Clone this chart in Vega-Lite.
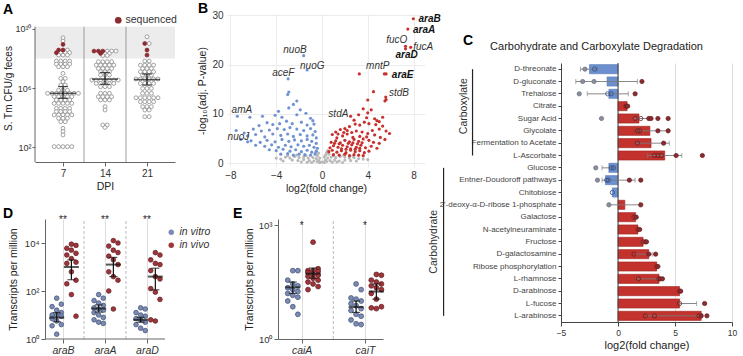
{
"$schema": "https://vega.github.io/schema/vega-lite/v6.json",
"padding": {"left": 3, "top": 2, "right": 3, "bottom": 2},
"spacing": -12,
"resolve": {"scale": {"fill": "independent", "stroke": "independent", "color": "independent"}, "legend": {"fill": "independent", "stroke": "independent", "color": "independent"}},
"config": {
  "font": "Liberation Sans",
  "view": {"stroke": null},
  "axis": {"labelFontSize": 9, "titleFontSize": 10, "titleFontWeight": "normal", "labelColor": "#333", "titleColor": "#222", "domainColor": "#666", "tickColor": "#666", "tickSize": 4, "labelPadding": 2},
  "title": {"fontSize": 14, "fontWeight": "bold", "anchor": "start", "frame": "group", "color": "#000"},
  "legend": {"labelFontSize": 10, "labelColor": "#333"}
},
"hconcat": [
{
"vconcat": [
{
"hconcat": [
{
"width": 140, "height": 148,
"title": {"text": "A", "dx": -32, "offset": -3},
"layer": [
 {"data": {"values": [{}]}, "mark": {"type": "rect", "color": "#ececec"},
  "encoding": {
   "x": {"datum": 0.333, "type": "quantitative", "scale": {"domain": [0.333, 3.667], "nice": false, "zero": false},
         "axis": {"values": [1, 2, 3], "labelExpr": "datum.value==1?'7':datum.value==2?'14':'21'", "title": "DPI", "labelFontSize": 10, "titleFontSize": 10.5, "titlePadding": 3}},
   "x2": {"datum": 3.667},
   "y": {"datum": 8, "type": "quantitative", "scale": {"domain": [0.99, 11.01], "nice": false, "zero": false},
         "axis": {"values": [2, 4, 6, 8, 10], "labelExpr": "datum.value==10?'10¹⁰':'10'+['⁰','¹','²','³','⁴','⁵','⁶','⁷','⁸','⁹'][datum.value]", "title": "S. Tm CFU/g feces", "domain": false, "titlePadding": 1, "labelPadding": 1, "labelFontSize": 9, "tickSize": 3}},
   "y2": {"datum": 10.15}}},
 {"data": {"values": [{"s": 1.5}, {"s": 2.5}]}, "mark": {"type": "rule", "color": "#888", "strokeWidth": 0.8},
  "encoding": {"x": {"field": "s", "type": "quantitative"}, "y": {"datum": 0.99}, "y2": {"datum": 10.15}}},
 {"data": {"values": [{}]}, "mark": {"type": "rule", "color": "#666"},
  "encoding": {"x": {"datum": 0.333}, "y": {"datum": 0.99}, "y2": {"datum": 10.15}}},
 {"data": {"values": [
  {"d":7,"v":9.4},{"d":7,"v":9.18},{"d":7,"v":8.95,"q":"s"},
  {"d":7,"v":8.57,"q":"s"},{"d":7,"v":8.57,"q":"s"},{"d":7,"v":8.57},
  {"d":7,"v":8.39,"q":"s"},{"d":7,"v":8.39},{"d":7,"v":8.39},{"d":7,"v":8.39},
  {"d":7,"v":8.23},{"d":7,"v":8.23},{"d":7,"v":8.23},
  {"d":7,"v":7.82},{"d":7,"v":7.82},{"d":7,"v":7.82},{"d":7,"v":7.82},
  {"d":7,"v":7.62},{"d":7,"v":7.62},{"d":7,"v":7.62},{"d":7,"v":7.62},
  {"d":7,"v":7.44},{"d":7,"v":7.44},{"d":7,"v":7.44},
  {"d":7,"v":6.99},{"d":7,"v":6.65},{"d":7,"v":6.65},{"d":7,"v":6.43},{"d":7,"v":6.2},{"d":7,"v":6.2},
  {"d":7,"v":5.85},{"d":7,"v":5.85},{"d":7,"v":5.85},
  {"d":7,"v":5.64},{"d":7,"v":5.64},{"d":7,"v":5.64},{"d":7,"v":5.64},{"d":7,"v":5.64},{"d":7,"v":5.64},{"d":7,"v":5.64},{"d":7,"v":5.64},
  {"d":7,"v":5.41},{"d":7,"v":5.41},{"d":7,"v":5.41},{"d":7,"v":5.41},{"d":7,"v":5.41},
  {"d":7,"v":5.19},{"d":7,"v":5.19},{"d":7,"v":5.19},{"d":7,"v":5.19},
  {"d":7,"v":4.96},{"d":7,"v":4.96},{"d":7,"v":4.96},{"d":7,"v":4.96},{"d":7,"v":4.96},
  {"d":7,"v":4.62},{"d":7,"v":4.62},{"d":7,"v":4.62},{"d":7,"v":4.62},
  {"d":7,"v":4.4},{"d":7,"v":4.4},{"d":7,"v":4.4},{"d":7,"v":4.4},
  {"d":7,"v":4.18},{"d":7,"v":4.18},{"d":7,"v":4.18},{"d":7,"v":4.18},{"d":7,"v":4.18},
  {"d":7,"v":3.95},{"d":7,"v":3.95},{"d":7,"v":3.95},{"d":7,"v":3.72},{"d":7,"v":3.72},
  {"d":7,"v":3.27},{"d":7,"v":3.05},{"d":7,"v":2.82},
  {"d":7,"v":2.03},{"d":7,"v":2.03},{"d":7,"v":2.03},{"d":7,"v":2.03},{"d":7,"v":2.03},
  {"d":14,"v":8.5,"q":"s"},{"d":14,"v":8.5,"q":"s"},{"d":14,"v":8.5,"q":"s"},{"d":14,"v":8.5},{"d":14,"v":8.5},{"d":14,"v":8.5},
  {"d":14,"v":8.34,"q":"s"},{"d":14,"v":8.34},{"d":14,"v":8.34},{"d":14,"v":8.2},{"d":14,"v":8.2},
  {"d":14,"v":7.78},{"d":14,"v":7.78},{"d":14,"v":7.78},{"d":14,"v":7.78},
  {"d":14,"v":7.55},{"d":14,"v":7.55},{"d":14,"v":7.55},{"d":14,"v":7.55},{"d":14,"v":7.55},
  {"d":14,"v":7.32},{"d":14,"v":7.32},{"d":14,"v":7.32},{"d":14,"v":7.32},
  {"d":14,"v":7.1},{"d":14,"v":7.1},{"d":14,"v":7.1},{"d":14,"v":6.88},{"d":14,"v":6.88},{"d":14,"v":6.88},
  {"d":14,"v":6.54},{"d":14,"v":6.54},{"d":14,"v":6.54},{"d":14,"v":6.54},{"d":14,"v":6.54},{"d":14,"v":6.54},{"d":14,"v":6.54},
  {"d":14,"v":6.31},{"d":14,"v":6.31},{"d":14,"v":6.31},{"d":14,"v":6.31},{"d":14,"v":6.31},
  {"d":14,"v":6.09},{"d":14,"v":6.09},{"d":14,"v":6.09},
  {"d":14,"v":5.64},{"d":14,"v":5.64},{"d":14,"v":5.64},
  {"d":14,"v":5.41},{"d":14,"v":5.41},{"d":14,"v":5.41},{"d":14,"v":5.41},
  {"d":14,"v":5.19},{"d":14,"v":5.19},{"d":14,"v":5.19},
  {"d":14,"v":4.74},{"d":14,"v":4.51},{"d":14,"v":3.5},{"d":14,"v":3.5},{"d":14,"v":3.33},
  {"d":21,"v":9.47},{"d":21,"v":9.01,"q":"s"},{"d":21,"v":9.01},{"d":21,"v":8.57,"q":"s"},{"d":21,"v":8.23,"q":"s"},
  {"d":21,"v":7.82},{"d":21,"v":7.82},
  {"d":21,"v":7.55},{"d":21,"v":7.55},{"d":21,"v":7.55},{"d":21,"v":7.55},
  {"d":21,"v":7.32},{"d":21,"v":7.32},{"d":21,"v":7.32},
  {"d":21,"v":7.1},{"d":21,"v":7.1},{"d":21,"v":7.1},{"d":21,"v":7.1},
  {"d":21,"v":6.88},{"d":21,"v":6.88},{"d":21,"v":6.88},
  {"d":21,"v":6.61},{"d":21,"v":6.61},{"d":21,"v":6.61},{"d":21,"v":6.61},{"d":21,"v":6.61},{"d":21,"v":6.61},
  {"d":21,"v":6.31},{"d":21,"v":6.31},{"d":21,"v":6.31},{"d":21,"v":6.31},
  {"d":21,"v":5.97},{"d":21,"v":5.97},{"d":21,"v":5.97},
  {"d":21,"v":5.64},{"d":21,"v":5.64},{"d":21,"v":5.64},
  {"d":21,"v":5.34},{"d":21,"v":5.34},{"d":21,"v":5.34},{"d":21,"v":5.34},{"d":21,"v":5.34},{"d":21,"v":5.34},
  {"d":21,"v":5.07},{"d":21,"v":5.07},{"d":21,"v":5.07},{"d":21,"v":5.07},
  {"d":21,"v":4.74},{"d":21,"v":4.74},{"d":21,"v":4.74},
  {"d":21,"v":4.51},{"d":21,"v":4.51},{"d":21,"v":4.06},{"d":21,"v":4.06}
 ]},
 "transform": [
  {"calculate": "datum.q=='s'?'sequenced':'other'", "as": "status"},
  {"joinaggregate": [{"op": "count", "as": "n"}], "groupby": ["d", "v"]},
  {"window": [{"op": "row_number", "as": "r"}], "groupby": ["d", "v"], "sort": [{"field": "status", "order": "descending"}]},
  {"calculate": "datum.d/7+(datum.r-(datum.n+1)/2)*0.105", "as": "px"}
 ],
 "mark": {"type": "point", "filled": true, "size": 15, "strokeWidth": 0.8, "opacity": 1},
 "encoding": {
  "x": {"field": "px", "type": "quantitative"},
  "y": {"field": "v", "type": "quantitative"},
  "fill": {"field": "status", "type": "nominal", "scale": {"domain": ["sequenced", "other"], "range": ["#8b2a30", "#ffffff"]},
           "legend": {"orient": "none", "legendX": 78, "legendY": 1, "values": ["sequenced"], "title": null, "symbolType": "circle", "symbolSize": 45, "symbolStrokeWidth": 0, "labelFontSize": 10.5, "padding": 0, "labelOffset": 2}},
  "stroke": {"field": "status", "type": "nominal", "scale": {"domain": ["sequenced", "other"], "range": ["#8b2a30", "#8c8c8c"]}, "legend": null},
  "order": {"field": "status", "sort": "ascending"}
 }},
 {"data": {"values": [{"d":7,"m":5.64,"lo":5.3,"hi":6.1},{"d":14,"m":6.6,"lo":6.25,"hi":7.05},{"d":21,"m":6.57,"lo":6.2,"hi":6.95}]},
  "transform": [{"calculate": "datum.d/7", "as": "gx"}],
  "layer": [
   {"mark": {"type": "rule", "color": "#111", "strokeWidth": 1.2}, "encoding": {"x": {"field": "gx", "type": "quantitative"}, "y": {"field": "lo", "type": "quantitative"}, "y2": {"field": "hi"}}},
   {"mark": {"type": "tick", "orient": "horizontal", "size": 26, "thickness": 1.5, "color": "#111"}, "encoding": {"x": {"field": "gx", "type": "quantitative"}, "y": {"field": "m", "type": "quantitative"}}},
   {"mark": {"type": "tick", "orient": "horizontal", "size": 10, "thickness": 1.2, "color": "#111"}, "encoding": {"x": {"field": "gx", "type": "quantitative"}, "y": {"field": "lo", "type": "quantitative"}}},
   {"mark": {"type": "tick", "orient": "horizontal", "size": 10, "thickness": 1.2, "color": "#111"}, "encoding": {"x": {"field": "gx", "type": "quantitative"}, "y": {"field": "hi", "type": "quantitative"}}}
  ]}
]
},
{
"width": 198, "height": 153,
"title": {"text": "B", "dx": -29, "offset": -6},
"layer": [
 {"data": {"values": [
  {"x":-4.0,"y":1.0,"c":"n"},{"x":-3.6,"y":0.8,"c":"n"},{"x":-3.2,"y":1.2,"c":"n"},{"x":-2.8,"y":1.0,"c":"n"},{"x":-2.4,"y":1.3,"c":"n"},{"x":-2.0,"y":1.1,"c":"n"},{"x":-1.6,"y":1.2,"c":"n"},{"x":-1.2,"y":1.0,"c":"n"},{"x":-0.8,"y":1.1,"c":"n"},{"x":-0.5,"y":0.9,"c":"n"},{"x":-0.3,"y":0.5,"c":"n"},{"x":-0.1,"y":0.2,"c":"n"},{"x":0.1,"y":0.2,"c":"n"},{"x":0.3,"y":0.6,"c":"n"},{"x":0.5,"y":1.0,"c":"n"},{"x":0.8,"y":1.2,"c":"n"},{"x":1.2,"y":1.1,"c":"n"},{"x":1.6,"y":1.3,"c":"n"},{"x":2.0,"y":1.2,"c":"n"},{"x":2.4,"y":1.0,"c":"n"},{"x":2.8,"y":1.1,"c":"n"},{"x":3.2,"y":0.9,"c":"n"},{"x":3.6,"y":0.8,"c":"n"},{"x":4.0,"y":0.7,"c":"n"},
  {"x":-2.6,"y":0.6,"c":"n"},{"x":-2.1,"y":0.5,"c":"n"},{"x":-1.6,"y":0.7,"c":"n"},{"x":-1.1,"y":0.5,"c":"n"},{"x":-0.7,"y":0.4,"c":"n"},{"x":-0.4,"y":0.3,"c":"n"},{"x":0.4,"y":0.3,"c":"n"},{"x":0.7,"y":0.5,"c":"n"},{"x":1.1,"y":0.6,"c":"n"},{"x":1.5,"y":0.4,"c":"n"},{"x":2.0,"y":0.6,"c":"n"},{"x":2.5,"y":0.5,"c":"n"},
  {"x":-1.8,"y":0.2,"c":"n"},{"x":-1.3,"y":0.15,"c":"n"},{"x":-0.9,"y":0.1,"c":"n"},{"x":-0.2,"y":0.05,"c":"n"},{"x":0.2,"y":0.1,"c":"n"},{"x":0.9,"y":0.15,"c":"n"},{"x":1.3,"y":0.2,"c":"n"},{"x":1.8,"y":0.1,"c":"n"},
  {"x":-0.4,"y":1.5,"c":"n"},{"x":-0.3,"y":2.0,"c":"n"},{"x":-0.2,"y":1.0,"c":"n"},{"x":0.3,"y":1.6,"c":"n"},{"x":0.4,"y":2.1,"c":"n"},{"x":0.2,"y":1.2,"c":"n"},{"x":-0.6,"y":1.7,"c":"n"},{"x":0.6,"y":1.8,"c":"n"},{"x":-0.5,"y":2.4,"c":"n"},{"x":0.5,"y":2.5,"c":"n"},{"x":-3.0,"y":1.5,"c":"n"},{"x":-2.2,"y":1.6,"c":"n"},{"x":-1.4,"y":1.5,"c":"n"},{"x":1.0,"y":1.5,"c":"n"},{"x":1.9,"y":1.6,"c":"n"},{"x":2.7,"y":1.4,"c":"n"},{"x":-3.4,"y":0.4,"c":"n"},{"x":3.0,"y":0.4,"c":"n"},
  {"x":-2.9,"y":14.4,"c":"d"},{"x":-3.0,"y":13.9,"c":"d"},{"x":-2.2,"y":12.6,"c":"d"},{"x":-2.5,"y":11.9,"c":"d"},{"x":-2.9,"y":11.2,"c":"d"},{"x":-1.9,"y":10.8,"c":"d"},{"x":-3.8,"y":10.5,"c":"d"},{"x":-1.4,"y":10.1,"c":"d"},{"x":-4.1,"y":9.7,"c":"d"},{"x":-5.2,"y":9.5,"c":"d"},{"x":-3.5,"y":9.3,"c":"d"},{"x":-2.2,"y":9.8,"c":"d"},{"x":-1.0,"y":9.1,"c":"d"},{"x":-0.8,"y":8.6,"c":"d"},
  {"x":-4.8,"y":8.2,"c":"d"},{"x":-5.5,"y":7.6,"c":"d"},{"x":-4.3,"y":7.8,"c":"d"},{"x":-3.7,"y":8.0,"c":"d"},{"x":-3.1,"y":8.5,"c":"d"},{"x":-2.6,"y":8.0,"c":"d"},{"x":-1.8,"y":8.3,"c":"d"},{"x":-1.3,"y":7.7,"c":"d"},{"x":-0.7,"y":7.9,"c":"d"},{"x":-6.0,"y":6.9,"c":"d"},{"x":-5.3,"y":6.5,"c":"d"},{"x":-4.6,"y":6.7,"c":"d"},{"x":-3.9,"y":7.0,"c":"d"},{"x":-3.3,"y":6.8,"c":"d"},{"x":-2.8,"y":7.2,"c":"d"},{"x":-2.2,"y":6.9,"c":"d"},{"x":-1.6,"y":6.6,"c":"d"},{"x":-1.0,"y":7.0,"c":"d"},{"x":-0.6,"y":6.4,"c":"d"},
  {"x":-6.5,"y":5.5,"c":"d"},{"x":-5.8,"y":5.8,"c":"d"},{"x":-5.0,"y":5.3,"c":"d"},{"x":-4.3,"y":5.9,"c":"d"},{"x":-3.6,"y":5.6,"c":"d"},{"x":-3.0,"y":5.9,"c":"d"},{"x":-2.5,"y":5.4,"c":"d"},{"x":-1.9,"y":5.8,"c":"d"},{"x":-1.3,"y":5.5,"c":"d"},{"x":-0.8,"y":5.7,"c":"d"},{"x":-0.5,"y":5.1,"c":"d"},
  {"x":-6.2,"y":4.5,"c":"d"},{"x":-5.4,"y":4.2,"c":"d"},{"x":-4.8,"y":4.6,"c":"d"},{"x":-4.1,"y":4.3,"c":"d"},{"x":-3.5,"y":4.8,"c":"d"},{"x":-2.9,"y":4.4,"c":"d"},{"x":-2.4,"y":4.7,"c":"d"},{"x":-1.8,"y":4.5,"c":"d"},{"x":-1.3,"y":4.8,"c":"d"},{"x":-0.9,"y":4.4,"c":"d"},{"x":-0.5,"y":4.0,"c":"d"},
  {"x":-5.8,"y":3.6,"c":"d"},{"x":-5.0,"y":3.4,"c":"d"},{"x":-4.4,"y":3.7,"c":"d"},{"x":-3.8,"y":3.2,"c":"d"},{"x":-3.2,"y":3.6,"c":"d"},{"x":-2.7,"y":3.3,"c":"d"},{"x":-2.1,"y":3.7,"c":"d"},{"x":-1.6,"y":3.4,"c":"d"},{"x":-1.1,"y":3.6,"c":"d"},{"x":-0.7,"y":3.2,"c":"d"},{"x":-0.4,"y":3.0,"c":"d"},
  {"x":-4.6,"y":2.7,"c":"d"},{"x":-4.0,"y":2.5,"c":"d"},{"x":-3.4,"y":2.8,"c":"d"},{"x":-2.8,"y":2.4,"c":"d"},{"x":-2.3,"y":2.7,"c":"d"},{"x":-1.8,"y":2.3,"c":"d"},{"x":-1.3,"y":2.6,"c":"d"},{"x":-0.9,"y":2.2,"c":"d"},{"x":-0.5,"y":2.4,"c":"d"},
  {"x":-3.6,"y":1.8,"c":"d"},{"x":-3.0,"y":1.9,"c":"d"},{"x":-2.5,"y":1.6,"c":"d"},{"x":-2.0,"y":1.8,"c":"d"},{"x":-1.5,"y":1.7,"c":"d"},{"x":-1.0,"y":1.6,"c":"d"},{"x":-0.6,"y":1.9,"c":"d"},{"x":-6.8,"y":6.1,"c":"d"},{"x":-7.1,"y":4.8,"c":"d"},
  {"x":-7.4,"y":9.5,"c":"d"},{"x":-7.5,"y":6.6,"c":"d"},{"x":-6.5,"y":4.3,"c":"d"},{"x":-6.3,"y":9.3,"c":"d"},{"x":-2.96,"y":17.1,"c":"d"},{"x":-1.3,"y":18.9,"c":"d"},{"x":-1.6,"y":21.8,"c":"d"},
  {"x":4.3,"y":10.8,"c":"u"},{"x":4.0,"y":10.2,"c":"u"},{"x":3.6,"y":11.0,"c":"u"},{"x":3.2,"y":9.8,"c":"u"},{"x":2.5,"y":9.5,"c":"u"},{"x":2.8,"y":8.7,"c":"u"},{"x":3.9,"y":9.2,"c":"u"},{"x":4.6,"y":9.0,"c":"u"},{"x":5.0,"y":8.4,"c":"u"},{"x":5.3,"y":7.5,"c":"u"},{"x":5.6,"y":6.5,"c":"u"},{"x":5.9,"y":6.0,"c":"u"},{"x":5.0,"y":6.9,"c":"u"},{"x":4.7,"y":7.8,"c":"u"},{"x":4.4,"y":6.6,"c":"u"},{"x":4.1,"y":8.0,"c":"u"},{"x":3.7,"y":8.3,"c":"u"},{"x":3.3,"y":7.7,"c":"u"},{"x":2.9,"y":7.9,"c":"u"},{"x":2.4,"y":7.4,"c":"u"},{"x":2.0,"y":7.0,"c":"u"},{"x":1.6,"y":6.8,"c":"u"},{"x":1.2,"y":6.3,"c":"u"},{"x":0.9,"y":5.8,"c":"u"},
  {"x":1.3,"y":5.1,"c":"u"},{"x":1.8,"y":5.5,"c":"u"},{"x":2.2,"y":5.9,"c":"u"},{"x":2.6,"y":6.2,"c":"u"},{"x":3.0,"y":6.5,"c":"u"},{"x":3.5,"y":6.3,"c":"u"},{"x":4.0,"y":6.0,"c":"u"},{"x":4.6,"y":5.7,"c":"u"},{"x":5.1,"y":5.2,"c":"u"},{"x":5.5,"y":4.8,"c":"u"},
  {"x":0.8,"y":4.2,"c":"u"},{"x":1.2,"y":4.5,"c":"u"},{"x":1.6,"y":4.1,"c":"u"},{"x":2.0,"y":4.6,"c":"u"},{"x":2.4,"y":4.3,"c":"u"},{"x":2.8,"y":4.8,"c":"u"},{"x":3.2,"y":4.4,"c":"u"},{"x":3.6,"y":4.9,"c":"u"},{"x":4.1,"y":4.6,"c":"u"},{"x":4.5,"y":4.2,"c":"u"},{"x":5.0,"y":4.0,"c":"u"},
  {"x":0.7,"y":3.1,"c":"u"},{"x":1.0,"y":3.5,"c":"u"},{"x":1.4,"y":3.2,"c":"u"},{"x":1.8,"y":3.6,"c":"u"},{"x":2.2,"y":3.3,"c":"u"},{"x":2.6,"y":3.7,"c":"u"},{"x":3.0,"y":3.2,"c":"u"},{"x":3.4,"y":3.6,"c":"u"},{"x":3.8,"y":3.1,"c":"u"},{"x":4.3,"y":3.4,"c":"u"},{"x":4.8,"y":3.0,"c":"u"},
  {"x":0.6,"y":2.3,"c":"u"},{"x":0.9,"y":2.6,"c":"u"},{"x":1.3,"y":2.2,"c":"u"},{"x":1.7,"y":2.5,"c":"u"},{"x":2.1,"y":2.1,"c":"u"},{"x":2.5,"y":2.6,"c":"u"},{"x":2.9,"y":2.3,"c":"u"},{"x":3.3,"y":2.5,"c":"u"},{"x":3.7,"y":2.1,"c":"u"},{"x":4.1,"y":2.4,"c":"u"},
  {"x":1.0,"y":1.7,"c":"u"},{"x":1.5,"y":1.6,"c":"u"},{"x":2.0,"y":1.8,"c":"u"},{"x":2.4,"y":1.5,"c":"u"},{"x":2.8,"y":1.7,"c":"u"},{"x":3.2,"y":1.6,"c":"u"},{"x":3.6,"y":1.5,"c":"u"},
  {"x":1.1,"y":4.0,"c":"u"},{"x":1.5,"y":3.9,"c":"u"},{"x":2.3,"y":4.0,"c":"u"},{"x":2.7,"y":4.1,"c":"u"},{"x":3.1,"y":3.9,"c":"u"},{"x":3.5,"y":4.1,"c":"u"},{"x":1.7,"y":2.9,"c":"u"},{"x":2.1,"y":2.8,"c":"u"},{"x":2.5,"y":2.9,"c":"u"},{"x":2.9,"y":2.8,"c":"u"},{"x":3.3,"y":3.0,"c":"u"},{"x":1.4,"y":5.9,"c":"u"},{"x":1.9,"y":6.2,"c":"u"},{"x":2.7,"y":5.2,"c":"u"},{"x":3.3,"y":5.4,"c":"u"},{"x":3.9,"y":5.3,"c":"u"},{"x":2.2,"y":6.6,"c":"u"},{"x":4.8,"y":8.6,"c":"u"},{"x":5.3,"y":9.3,"c":"u"},
  {"x":7.98,"y":29.3,"c":"u"},{"x":7.5,"y":27.2,"c":"u"},{"x":7.3,"y":23.7,"c":"u"},{"x":7.3,"y":23.2,"c":"u"},{"x":7.75,"y":23.5,"c":"u"},{"x":3.26,"y":18.1,"c":"u"},{"x":5.45,"y":18.1,"c":"u"},{"x":5.6,"y":18.1,"c":"u"},{"x":5.57,"y":13.4,"c":"u"},{"x":5.6,"y":12.9,"c":"u"},{"x":5.5,"y":12.6,"c":"u"},{"x":4.5,"y":14.5,"c":"u"},{"x":4.0,"y":12.8,"c":"u"}
 ]},
 "mark": {"type": "circle", "size": 10, "opacity": 1},
 "encoding": {
  "x": {"field": "x", "type": "quantitative", "scale": {"domain": [-8.3, 9], "nice": false, "zero": false},
        "axis": {"values": [-8,-6,-4,-2,0,2,4,6,8], "labelExpr": "datum.value%4==0?datum.label:''", "labelOverlap": false, "grid": true, "gridColor": "#ececec", "domain": false, "ticks": false, "title": "log2(fold change)", "labelFontSize": 10, "titleFontSize": 10.5, "labelPadding": 3, "titlePadding": 3}},
  "y": {"field": "y", "type": "quantitative", "scale": {"domain": [-0.81, 30.27], "nice": false, "zero": false},
        "axis": {"values": [0,5,10,15,20,25,30], "labelExpr": "datum.value%10==0?datum.label:''", "labelOverlap": false, "grid": true, "gridColor": "#ececec", "domain": false, "ticks": false, "title": "-log₁₀(adj. P-value)", "labelFontSize": 10, "titleFontSize": 10.5, "labelPadding": 4, "titlePadding": 4}},
  "color": {"field": "c", "type": "nominal", "scale": {"domain": ["n", "d", "u"], "range": ["#b9b9b9", "#6f93d0", "#c7302c"]}, "legend": null}
 }},
 {"data": {"values": [
  {"g":"fucO","tx":6.53,"ty":24.9},{"g":"fucA","tx":8.85,"ty":23.6},{"g":"mntP","tx":4.87,"ty":19.8},{"g":"stdB","tx":6.73,"ty":14.3},{"g":"stdA","tx":1.43,"ty":10.0},
  {"g":"nuoB","tx":-2.36,"ty":22.9},{"g":"nuoG","tx":-0.85,"ty":19.8},{"g":"aceF","tx":-3.38,"ty":18.3},{"g":"amA","tx":-7.0,"ty":10.7},{"g":"nuoJ","tx":-7.3,"ty":5.3}
 ]},
 "mark": {"type": "text", "fontStyle": "italic", "fontSize": 10, "fill": "#333"},
 "encoding": {"x": {"field": "tx", "type": "quantitative"}, "y": {"field": "ty", "type": "quantitative"}, "text": {"field": "g"}}},
 {"data": {"values": [
  {"g":"araB","tx":9.4,"ty":29.3},{"g":"araA","tx":8.92,"ty":27.1},{"g":"araD","tx":7.4,"ty":22.0},{"g":"araE","tx":7.05,"ty":17.9}
 ]},
 "mark": {"type": "text", "fontStyle": "italic", "fontWeight": "bold", "fontSize": 10, "fill": "#111"},
 "encoding": {"x": {"field": "tx", "type": "quantitative"}, "y": {"field": "ty", "type": "quantitative"}, "text": {"field": "g"}}}
]
}
],
"spacing": 52, "bounds": "flush",
"resolve": {"scale": {"fill": "independent", "stroke": "independent", "color": "independent"}, "legend": {"fill": "independent", "stroke": "independent", "color": "independent"}}
},
{
"hconcat": [
{
"width": 130, "height": 120,
"title": {"text": "D", "dx": -32, "offset": -6},
"layer": [
 {"data": {"values": [{"s": 1.5}, {"s": 2.5}]}, "mark": {"type": "rule", "color": "#aaa", "strokeDash": [3, 2], "strokeWidth": 0.8},
  "encoding": {
   "x": {"field": "s", "type": "quantitative", "scale": {"domain": [0.333, 3.43], "nice": false, "zero": false},
         "axis": {"values": [1, 2, 3], "labelExpr": "datum.value==1?'araB':datum.value==2?'araA':'araD'", "labelFontStyle": "italic", "labelFontSize": 10.5, "title": null, "domain": false, "tickSize": 4}},
   "y": {"datum": 0, "type": "quantitative", "scale": {"domain": [0, 5], "nice": false, "zero": false},
         "axis": {"values": [0, 2, 4], "labelExpr": "'10'+['⁰','¹','²','³','⁴','⁵'][datum.value]", "title": "Transcripts per million", "offset": -10, "titleFontSize": 10.5, "labelFontSize": 9.5, "titlePadding": 6}},
   "y2": {"datum": 5}}},
 {"data": {"values": [{}]}, "mark": {"type": "rule", "color": "#666"},
  "encoding": {"x": {"datum": 0.571}, "x2": {"datum": 3.43}, "y": {"datum": 0}}},
 {"data": {"values": [
  {"g":"araB","c":"in vitro","v":1.7},{"g":"araB","c":"in vitro","v":1.45},{"g":"araB","c":"in vitro","v":1.35},{"g":"araB","c":"in vitro","v":1.2},{"g":"araB","c":"in vitro","v":1.1},{"g":"araB","c":"in vitro","v":1.0},{"g":"araB","c":"in vitro","v":1.0},{"g":"araB","c":"in vitro","v":0.95},{"g":"araB","c":"in vitro","v":0.85},{"g":"araB","c":"in vitro","v":0.75},{"g":"araB","c":"in vitro","v":0.6},{"g":"araB","c":"in vitro","v":0.55},{"g":"araB","c":"in vitro","v":0.2},
  {"g":"araB","c":"in vivo","v":3.95},{"g":"araB","c":"in vivo","v":3.9},{"g":"araB","c":"in vivo","v":3.78},{"g":"araB","c":"in vivo","v":3.7},{"g":"araB","c":"in vivo","v":3.57},{"g":"araB","c":"in vivo","v":3.5},{"g":"araB","c":"in vivo","v":3.35},{"g":"araB","c":"in vivo","v":3.2},{"g":"araB","c":"in vivo","v":3.15},{"g":"araB","c":"in vivo","v":2.8},{"g":"araB","c":"in vivo","v":2.45},{"g":"araB","c":"in vivo","v":2.3},{"g":"araB","c":"in vivo","v":1.85},{"g":"araB","c":"in vivo","v":0.95},
  {"g":"araA","c":"in vitro","v":1.85},{"g":"araA","c":"in vitro","v":1.7},{"g":"araA","c":"in vitro","v":1.6},{"g":"araA","c":"in vitro","v":1.5},{"g":"araA","c":"in vitro","v":1.4},{"g":"araA","c":"in vitro","v":1.3},{"g":"araA","c":"in vitro","v":1.25},{"g":"araA","c":"in vitro","v":1.2},{"g":"araA","c":"in vitro","v":1.1},{"g":"araA","c":"in vitro","v":1.0},{"g":"araA","c":"in vitro","v":0.9},{"g":"araA","c":"in vitro","v":0.8},{"g":"araA","c":"in vitro","v":0.7},{"g":"araA","c":"in vitro","v":0.65},
  {"g":"araA","c":"in vivo","v":4.1},{"g":"araA","c":"in vivo","v":4.0},{"g":"araA","c":"in vivo","v":3.87},{"g":"araA","c":"in vivo","v":3.7},{"g":"araA","c":"in vivo","v":3.6},{"g":"araA","c":"in vivo","v":3.45},{"g":"araA","c":"in vivo","v":3.3},{"g":"araA","c":"in vivo","v":3.1},{"g":"araA","c":"in vivo","v":2.8},{"g":"araA","c":"in vivo","v":2.6},{"g":"araA","c":"in vivo","v":2.45},{"g":"araA","c":"in vivo","v":2.0},{"g":"araA","c":"in vivo","v":1.25},
  {"g":"araD","c":"in vitro","v":1.3},{"g":"araD","c":"in vitro","v":1.25},{"g":"araD","c":"in vitro","v":1.1},{"g":"araD","c":"in vitro","v":1.0},{"g":"araD","c":"in vitro","v":0.95},{"g":"araD","c":"in vitro","v":0.85},{"g":"araD","c":"in vitro","v":0.8},{"g":"araD","c":"in vitro","v":0.7},{"g":"araD","c":"in vitro","v":0.6},{"g":"araD","c":"in vitro","v":0.45},{"g":"araD","c":"in vitro","v":0.35},
  {"g":"araD","c":"in vivo","v":3.6},{"g":"araD","c":"in vivo","v":3.5},{"g":"araD","c":"in vivo","v":3.3},{"g":"araD","c":"in vivo","v":3.15},{"g":"araD","c":"in vivo","v":3.1},{"g":"araD","c":"in vivo","v":2.85},{"g":"araD","c":"in vivo","v":2.6},{"g":"araD","c":"in vivo","v":2.5},{"g":"araD","c":"in vivo","v":2.1},{"g":"araD","c":"in vivo","v":1.95},{"g":"araD","c":"in vivo","v":1.65},{"g":"araD","c":"in vivo","v":0.8},{"g":"araD","c":"in vivo","v":0.75}
 ]},
 "transform": [
  {"calculate": "indexof(['araB','araA','araD'], datum.g)+1", "as": "gi"},
  {"window": [{"op": "row_number", "as": "r"}], "groupby": ["g", "c"], "sort": [{"field": "v", "order": "descending"}]},
  {"calculate": "datum.gi+(datum.c=='in vitro'?-0.15:0.2)+((datum.r%3)-1)*0.11", "as": "px"}
 ],
 "mark": {"type": "point", "filled": true, "size": 22, "strokeWidth": 0.7, "opacity": 1},
 "encoding": {
  "x": {"field": "px", "type": "quantitative"},
  "y": {"field": "v", "type": "quantitative"},
  "fill": {"field": "c", "type": "nominal", "scale": {"domain": ["in vitro", "in vivo"], "range": ["#7a8bb4", "#a03539"]},
           "legend": {"orient": "none", "legendX": 131, "legendY": 8, "title": null, "labelFontStyle": "italic", "labelFontSize": 10.5, "symbolType": "circle", "symbolSize": 30, "symbolStrokeWidth": 0, "padding": 0, "rowPadding": 2, "labelOffset": 3}},
  "stroke": {"field": "c", "type": "nominal", "scale": {"domain": ["in vitro", "in vivo"], "range": ["#3f4d73", "#5c1a1e"]}, "legend": null}
 }},
 {"data": {"values": [
  {"g":"araB","c":"in vitro","m":0.89,"lo":0.72,"hi":1.1},{"g":"araB","c":"in vivo","m":3.0,"lo":2.47,"hi":3.3},
  {"g":"araA","c":"in vitro","m":1.27,"lo":1.12,"hi":1.42},{"g":"araA","c":"in vivo","m":3.1,"lo":2.6,"hi":3.4},
  {"g":"araD","c":"in vitro","m":0.8,"lo":0.7,"hi":0.9},{"g":"araD","c":"in vivo","m":2.6,"lo":2.05,"hi":2.95}
 ]},
 "transform": [
  {"calculate": "indexof(['araB','araA','araD'], datum.g)+1+(datum.c=='in vitro'?-0.15:0.2)", "as": "gx"}
 ],
 "layer": [
  {"mark": {"type": "rule", "color": "#111", "strokeWidth": 1.2}, "encoding": {"x": {"field": "gx", "type": "quantitative"}, "y": {"field": "lo", "type": "quantitative"}, "y2": {"field": "hi"}}},
  {"mark": {"type": "tick", "orient": "horizontal", "size": 15, "thickness": 2, "color": "#111"}, "encoding": {"x": {"field": "gx", "type": "quantitative"}, "y": {"field": "m", "type": "quantitative"}}},
  {"mark": {"type": "tick", "orient": "horizontal", "size": 8, "thickness": 1.2, "color": "#111"}, "encoding": {"x": {"field": "gx", "type": "quantitative"}, "y": {"field": "lo", "type": "quantitative"}}},
  {"mark": {"type": "tick", "orient": "horizontal", "size": 8, "thickness": 1.2, "color": "#111"}, "encoding": {"x": {"field": "gx", "type": "quantitative"}, "y": {"field": "hi", "type": "quantitative"}}}
 ]},
 {"data": {"values": [{"gi": 1}, {"gi": 2}, {"gi": 3}]},
  "mark": {"type": "text", "fontSize": 10, "fill": "#222", "baseline": "middle"},
  "encoding": {"x": {"field": "gi", "type": "quantitative"}, "y": {"datum": 4.97}, "text": {"value": "**"}}}
]
},
{
"width": 105, "height": 120,
"title": {"text": "E", "dx": -45, "offset": -2},
"layer": [
 {"data": {"values": [{"s": 1.5}]}, "mark": {"type": "rule", "color": "#aaa", "strokeDash": [3, 2], "strokeWidth": 0.8},
  "encoding": {
   "x": {"field": "s", "type": "quantitative", "scale": {"domain": [0.626, 2.285], "nice": false, "zero": false},
         "axis": {"values": [1, 2], "labelExpr": "datum.value==1?'caiA':'caiT'", "labelFontStyle": "italic", "labelFontSize": 10.5, "title": null, "tickSize": 4}},
   "y": {"datum": 0, "type": "quantitative", "scale": {"domain": [0, 3.16], "nice": false, "zero": false},
         "axis": {"values": [0, 1, 2, 3], "labelExpr": "'10'+['⁰','¹','²','³'][datum.value]", "title": "Transcripts per million", "titleFontSize": 10.5, "labelFontSize": 9.5, "titlePadding": 4}},
   "y2": {"datum": 3.16}}},
 {"data": {"values": [
  {"g":"caiA","c":"in vitro","v":1.8},{"g":"caiA","c":"in vitro","v":1.8},{"g":"caiA","c":"in vitro","v":1.55},{"g":"caiA","c":"in vitro","v":1.45},{"g":"caiA","c":"in vitro","v":1.4},{"g":"caiA","c":"in vitro","v":1.35},{"g":"caiA","c":"in vitro","v":1.3},{"g":"caiA","c":"in vitro","v":1.25},{"g":"caiA","c":"in vitro","v":1.2},{"g":"caiA","c":"in vitro","v":1.15},{"g":"caiA","c":"in vitro","v":1.1},{"g":"caiA","c":"in vitro","v":1.0},{"g":"caiA","c":"in vitro","v":0.85},{"g":"caiA","c":"in vitro","v":0.65},
  {"g":"caiA","c":"in vivo","v":2.55},{"g":"caiA","c":"in vivo","v":1.85},{"g":"caiA","c":"in vivo","v":1.8},{"g":"caiA","c":"in vivo","v":1.8},{"g":"caiA","c":"in vivo","v":1.78},{"g":"caiA","c":"in vivo","v":1.75},{"g":"caiA","c":"in vivo","v":1.7},{"g":"caiA","c":"in vivo","v":1.68},{"g":"caiA","c":"in vivo","v":1.65},{"g":"caiA","c":"in vivo","v":1.6},{"g":"caiA","c":"in vivo","v":1.55},{"g":"caiA","c":"in vivo","v":1.5},{"g":"caiA","c":"in vivo","v":1.45},{"g":"caiA","c":"in vivo","v":1.38},{"g":"caiA","c":"in vivo","v":1.3},
  {"g":"caiT","c":"in vitro","v":1.45},{"g":"caiT","c":"in vitro","v":1.3},{"g":"caiT","c":"in vitro","v":1.08},{"g":"caiT","c":"in vitro","v":1.05},{"g":"caiT","c":"in vitro","v":1.0},{"g":"caiT","c":"in vitro","v":0.93},{"g":"caiT","c":"in vitro","v":0.88},{"g":"caiT","c":"in vitro","v":0.8},{"g":"caiT","c":"in vitro","v":0.75},{"g":"caiT","c":"in vitro","v":0.65},{"g":"caiT","c":"in vitro","v":0.6},{"g":"caiT","c":"in vitro","v":0.5},{"g":"caiT","c":"in vitro","v":0.4},{"g":"caiT","c":"in vitro","v":0.38},
  {"g":"caiT","c":"in vivo","v":1.7},{"g":"caiT","c":"in vivo","v":1.68},{"g":"caiT","c":"in vivo","v":1.55},{"g":"caiT","c":"in vivo","v":1.5},{"g":"caiT","c":"in vivo","v":1.45},{"g":"caiT","c":"in vivo","v":1.4},{"g":"caiT","c":"in vivo","v":1.35},{"g":"caiT","c":"in vivo","v":1.3},{"g":"caiT","c":"in vivo","v":1.2},{"g":"caiT","c":"in vivo","v":1.05},{"g":"caiT","c":"in vivo","v":0.85},{"g":"caiT","c":"in vivo","v":0.82},{"g":"caiT","c":"in vivo","v":0.8}
 ]},
 "transform": [
  {"calculate": "indexof(['caiA','caiT'], datum.g)+1", "as": "gi"},
  {"window": [{"op": "row_number", "as": "r"}], "groupby": ["g", "c"], "sort": [{"field": "v", "order": "descending"}]},
  {"calculate": "datum.gi+(datum.c=='in vitro'?-0.14:0.18)+((datum.r%3)-1)*0.08", "as": "px"}
 ],
 "mark": {"type": "point", "filled": true, "size": 24, "strokeWidth": 0.7, "opacity": 1},
 "encoding": {
  "x": {"field": "px", "type": "quantitative"},
  "y": {"field": "v", "type": "quantitative"},
  "fill": {"field": "c", "type": "nominal", "scale": {"domain": ["in vitro", "in vivo"], "range": ["#7a8bb4", "#a03539"]}, "legend": null},
  "stroke": {"field": "c", "type": "nominal", "scale": {"domain": ["in vitro", "in vivo"], "range": ["#3f4d73", "#5c1a1e"]}, "legend": null}
 }},
 {"data": {"values": [
  {"g":"caiA","c":"in vitro","m":1.36,"lo":1.2,"hi":1.5},{"g":"caiA","c":"in vivo","m":1.72,"lo":1.6,"hi":1.87},
  {"g":"caiT","c":"in vitro","m":0.84,"lo":0.7,"hi":1.0},{"g":"caiT","c":"in vivo","m":1.25,"lo":1.05,"hi":1.45}
 ]},
 "transform": [
  {"calculate": "indexof(['caiA','caiT'], datum.g)+1+(datum.c=='in vitro'?-0.14:0.18)", "as": "gx"}
 ],
 "layer": [
  {"mark": {"type": "rule", "color": "#111", "strokeWidth": 1.2}, "encoding": {"x": {"field": "gx", "type": "quantitative"}, "y": {"field": "lo", "type": "quantitative"}, "y2": {"field": "hi"}}},
  {"mark": {"type": "tick", "orient": "horizontal", "size": 15, "thickness": 2, "color": "#111"}, "encoding": {"x": {"field": "gx", "type": "quantitative"}, "y": {"field": "m", "type": "quantitative"}}},
  {"mark": {"type": "tick", "orient": "horizontal", "size": 8, "thickness": 1.2, "color": "#111"}, "encoding": {"x": {"field": "gx", "type": "quantitative"}, "y": {"field": "lo", "type": "quantitative"}}},
  {"mark": {"type": "tick", "orient": "horizontal", "size": 8, "thickness": 1.2, "color": "#111"}, "encoding": {"x": {"field": "gx", "type": "quantitative"}, "y": {"field": "hi", "type": "quantitative"}}}
 ]},
 {"data": {"values": [{"gi": 1}, {"gi": 2}]},
  "mark": {"type": "text", "fontSize": 10, "fill": "#222", "baseline": "middle"},
  "encoding": {"x": {"field": "gi", "type": "quantitative"}, "y": {"datum": 2.97}, "text": {"value": "*"}}}
]
}
],
"spacing": 113, "bounds": "flush",
"resolve": {"scale": {"fill": "independent", "stroke": "independent", "color": "independent"}, "legend": {"fill": "independent", "stroke": "independent", "color": "independent"}}
}
],
"spacing": 12,
"resolve": {"scale": {"fill": "independent", "stroke": "independent", "color": "independent"}, "legend": {"fill": "independent", "stroke": "independent", "color": "independent"}}
},
{
"vconcat": [
{
"width": 171, "height": 1,
"data": {"values": [{}]},
"mark": {"type": "point", "opacity": 0},
"title": {"text": "C", "orient": "bottom", "anchor": "start", "dx": -98, "offset": 17}
},
{
"width": 171, "height": 259,
"title": {"text": "Carbohydrate and Carboxylate Degradation", "fontSize": 11, "fontWeight": "normal", "anchor": "middle", "dx": -50, "offset": 11, "color": "#222"},
"layer": [
 {"data": {"values": [
  {"cat":"D-threonate","fc":-2.5},{"cat":"D-gluconate","fc":-0.96},{"cat":"Trehalose","fc":-0.8},{"cat":"Citrate","fc":0.8},{"cat":"Sugar Acid","fc":1.84},{"cat":"Glycolate","fc":2.8},{"cat":"Fermentation to Acetate","fc":2.9},{"cat":"L-Ascorbate","fc":4.1},
  {"cat":"Glucose","fc":-0.8},{"cat":"Entner-Doudoroff pathways","fc":-1.1},{"cat":"Chitobiose","fc":-0.5},{"cat":"2'-deoxy-α-D-ribose 1-phosphate","fc":0.6},{"cat":"Galactose","fc":1.55},{"cat":"N-acetylneuraminate","fc":1.75},{"cat":"Fructose","fc":2.2},{"cat":"D-galactosamine","fc":2.7},{"cat":"Ribose phosphorylation","fc":3.4},{"cat":"L-rhamnose","fc":3.6},{"cat":"D-arabinose","fc":5.4},{"cat":"L-fucose","fc":5.4},{"cat":"L-arabinose","fc":7.3}
 ]},
 "mark": {"type": "bar", "strokeWidth": 0.6},
 "encoding": {
  "y": {"field": "cat", "type": "nominal", "sort": null,
        "scale": {"domain": ["D-threonate","D-gluconate","Trehalose","Citrate","Sugar Acid","Glycolate","Fermentation to Acetate","L-Ascorbate","Glucose","Entner-Doudoroff pathways","Chitobiose","2'-deoxy-α-D-ribose 1-phosphate","Galactose","N-acetylneuraminate","Fructose","D-galactosamine","Ribose phosphorylation","L-rhamnose","D-arabinose","L-fucose","L-arabinose"], "paddingInner": 0.26, "paddingOuter": 0.13},
        "axis": {"title": null, "labelFontSize": 8, "tickSize": 3, "labelPadding": 2, "labelColor": "#444", "domainColor": "#444", "tickColor": "#444"}},
  "x": {"field": "fc", "type": "quantitative", "scale": {"domain": [-5, 10], "nice": false, "zero": false},
        "axis": {"values": [-5, 0, 5, 10], "format": "d", "labelOverlap": false, "labelFlush": false, "tickSize": 4, "title": "log2(fold change)", "titleFontSize": 11, "labelFontSize": 8.5, "titlePadding": 3, "domainColor": "#444", "tickColor": "#444"}},
  "x2": {"datum": 0},
  "color": {"condition": {"test": "datum.fc<0", "value": "#6c8fce"}, "value": "#c3322c"},
  "stroke": {"condition": {"test": "datum.fc<0", "value": "#5577b5"}, "value": "#9e2320"}
 }},
 {"data": {"values": [{}]}, "mark": {"type": "rule", "color": "#444", "strokeWidth": 1}, "encoding": {"x": {"datum": 0}}},
 {"data": {"values": [
  {"cat":"D-threonate","lo":-3.3,"hi":-1.8},{"cat":"D-gluconate","lo":-3.7,"hi":1.7},{"cat":"Trehalose","lo":-2.7,"hi":0.9},{"cat":"Sugar Acid","lo":1.4,"hi":2.7},{"cat":"Glycolate","lo":1.7,"hi":4.4},{"cat":"Fermentation to Acetate","lo":1.6,"hi":4.5},{"cat":"L-Ascorbate","lo":2.6,"hi":5.6},
  {"cat":"Glucose","lo":-1.4,"hi":-0.3},{"cat":"Entner-Doudoroff pathways","lo":-1.4,"hi":1.5},{"cat":"2'-deoxy-α-D-ribose 1-phosphate","lo":-0.8,"hi":1.9},{"cat":"D-galactosamine","lo":1.6,"hi":3.0},{"cat":"L-rhamnose","lo":1.7,"hi":3.6},{"cat":"L-fucose","lo":5.4,"hi":6.9},{"cat":"L-arabinose","lo":2.5,"hi":7.4}
 ]},
 "layer": [
  {"mark": {"type": "rule", "color": "#7a7a7a", "strokeWidth": 0.9}, "encoding": {"y": {"field": "cat", "type": "nominal", "sort": null}, "x": {"field": "lo", "type": "quantitative"}, "x2": {"field": "hi"}}},
  {"mark": {"type": "tick", "size": 5, "thickness": 0.9, "color": "#7a7a7a"}, "encoding": {"y": {"field": "cat", "type": "nominal", "sort": null}, "x": {"field": "lo", "type": "quantitative"}}},
  {"mark": {"type": "tick", "size": 5, "thickness": 0.9, "color": "#7a7a7a"}, "encoding": {"y": {"field": "cat", "type": "nominal", "sort": null}, "x": {"field": "hi", "type": "quantitative"}}}
 ]},
 {"data": {"values": [
  {"cat":"D-threonate","v":-2.9,"k":"n"},{"cat":"D-threonate","v":-2.05,"k":"on"},
  {"cat":"D-gluconate","v":-3.1,"k":"n"},{"cat":"D-gluconate","v":-2.1,"k":"n"},{"cat":"D-gluconate","v":2.1,"k":"p"},
  {"cat":"Trehalose","v":-3.4,"k":"n"},{"cat":"Trehalose","v":-0.9,"k":"on"},{"cat":"Trehalose","v":-0.6,"k":"on"},{"cat":"Trehalose","v":1.5,"k":"p"},
  {"cat":"Citrate","v":0.7,"k":"p"},{"cat":"Citrate","v":0.85,"k":"p"},
  {"cat":"Sugar Acid","v":-1.45,"k":"n"},{"cat":"Sugar Acid","v":1.5,"k":"op"},{"cat":"Sugar Acid","v":2.0,"k":"op"},{"cat":"Sugar Acid","v":2.7,"k":"p"},{"cat":"Sugar Acid","v":2.9,"k":"p"},{"cat":"Sugar Acid","v":3.5,"k":"p"},{"cat":"Sugar Acid","v":4.4,"k":"p"},
  {"cat":"Glycolate","v":1.7,"k":"op"},{"cat":"Glycolate","v":1.9,"k":"op"},{"cat":"Glycolate","v":3.5,"k":"p"},{"cat":"Glycolate","v":4.4,"k":"p"},
  {"cat":"Fermentation to Acetate","v":1.7,"k":"op"},{"cat":"Fermentation to Acetate","v":4.0,"k":"p"},
  {"cat":"L-Ascorbate","v":3.2,"k":"op"},{"cat":"L-Ascorbate","v":3.5,"k":"op"},{"cat":"L-Ascorbate","v":3.8,"k":"op"},{"cat":"L-Ascorbate","v":5.1,"k":"p"},{"cat":"L-Ascorbate","v":7.4,"k":"p"},
  {"cat":"Glucose","v":-1.95,"k":"n"},{"cat":"Glucose","v":-0.6,"k":"on"},{"cat":"Glucose","v":-0.4,"k":"on"},
  {"cat":"Entner-Doudoroff pathways","v":-1.8,"k":"n"},{"cat":"Entner-Doudoroff pathways","v":-1.0,"k":"on"},{"cat":"Entner-Doudoroff pathways","v":-0.85,"k":"on"},{"cat":"Entner-Doudoroff pathways","v":1.0,"k":"p"},{"cat":"Entner-Doudoroff pathways","v":2.0,"k":"p"},
  {"cat":"Chitobiose","v":-0.5,"k":"on"},
  {"cat":"2'-deoxy-α-D-ribose 1-phosphate","v":-0.8,"k":"n"},{"cat":"2'-deoxy-α-D-ribose 1-phosphate","v":2.0,"k":"p"},
  {"cat":"Galactose","v":1.4,"k":"op"},{"cat":"Galactose","v":1.6,"k":"p"},
  {"cat":"N-acetylneuraminate","v":1.75,"k":"op"},{"cat":"N-acetylneuraminate","v":1.9,"k":"p"},
  {"cat":"Fructose","v":2.2,"k":"op"},{"cat":"Fructose","v":2.4,"k":"p"},{"cat":"Fructose","v":2.5,"k":"p"},
  {"cat":"D-galactosamine","v":1.4,"k":"op"},{"cat":"D-galactosamine","v":2.7,"k":"p"},{"cat":"D-galactosamine","v":3.3,"k":"p"},
  {"cat":"Ribose phosphorylation","v":3.4,"k":"op"},{"cat":"Ribose phosphorylation","v":3.5,"k":"p"},
  {"cat":"L-rhamnose","v":1.8,"k":"op"},{"cat":"L-rhamnose","v":3.6,"k":"op"},{"cat":"L-rhamnose","v":3.7,"k":"p"},{"cat":"L-rhamnose","v":3.9,"k":"p"},
  {"cat":"D-arabinose","v":5.4,"k":"op"},{"cat":"D-arabinose","v":5.5,"k":"p"},
  {"cat":"L-fucose","v":5.4,"k":"op"},{"cat":"L-fucose","v":7.6,"k":"p"},
  {"cat":"L-arabinose","v":2.4,"k":"op"},{"cat":"L-arabinose","v":3.2,"k":"op"},{"cat":"L-arabinose","v":7.1,"k":"op"},{"cat":"L-arabinose","v":7.3,"k":"p"},{"cat":"L-arabinose","v":7.8,"k":"p"}
 ]},
 "mark": {"type": "point", "filled": true, "size": 18, "strokeWidth": 0.8, "opacity": 1},
 "encoding": {
  "y": {"field": "cat", "type": "nominal", "sort": null},
  "x": {"field": "v", "type": "quantitative"},
  "fill": {"field": "k", "type": "nominal", "scale": {"domain": ["n", "p", "on", "op"], "range": ["#8a8f9c", "#8b2b2f", "rgba(0,0,0,0)", "rgba(0,0,0,0)"]}, "legend": null},
  "stroke": {"field": "k", "type": "nominal", "scale": {"domain": ["n", "p", "on", "op"], "range": ["#6d7280", "#6a1e22", "#2d4d8a", "#6a1e22"]}, "legend": null}
 }},
 {"data": {"values": [{"grp":"Carboxylate","t":"D-threonate","b":"L-Ascorbate","bx":-12.76},{"grp":"Carbohydrate","t":"Glucose","b":"L-arabinose","bx":-15.3}]},
  "mark": {"type": "rule", "color": "#222", "strokeWidth": 1.2, "clip": false},
  "encoding": {"x": {"field": "bx", "type": "quantitative"}, "y": {"field": "t", "type": "nominal", "sort": null}, "y2": {"field": "b"}}},
 {"data": {"values": [{"grp":"Carboxylate","ty":"Citrate","tx":-13.55},{"grp":"Carbohydrate","ty":"Fructose","tx":-16.1}]},
  "mark": {"type": "text", "angle": 270, "fontSize": 10.5, "fill": "#333", "clip": false, "baseline": "middle", "align": "center"},
  "encoding": {"x": {"field": "tx", "type": "quantitative"}, "y": {"field": "ty", "type": "nominal", "sort": null}, "text": {"field": "grp"}}}
]
}
],
"spacing": 48, "bounds": "flush",
"resolve": {"scale": {"fill": "independent", "stroke": "independent", "color": "independent"}, "legend": {"fill": "independent", "stroke": "independent", "color": "independent"}}
}
]
}
